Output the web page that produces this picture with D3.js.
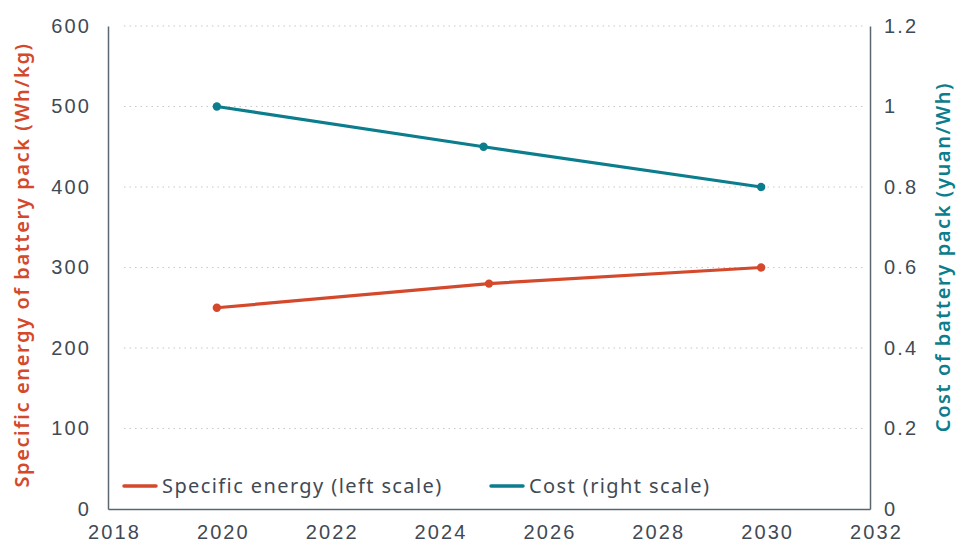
<!DOCTYPE html>
<html><head><meta charset="utf-8">
<script src="https://cdn.jsdelivr.net/npm/d3@7"></script>
<style>
body{margin:0;background:#fff;}
svg{display:block;font-family:"Noto Sans","Open Sans",sans-serif;}
</style></head><body>
<svg id="chart" width="956" height="542"></svg>
<script>
const energyYears = [2020, 2025, 2030];
const energyValues = [250, 280, 300];
const costYears = [2020, 2024.9, 2030];
const costValues = [1.0, 0.9, 0.8];
const xTicks = [2018, 2020, 2022, 2024, 2026, 2028, 2030, 2032];
const leftTicks = [0, 100, 200, 300, 400, 500, 600];
const rightTicks = [0, 0.2, 0.4, 0.6, 0.8, 1.0, 1.2];
const seriesNames = ["Specific energy (left scale)", "Cost (right scale)"];
const leftTitle = "Specific energy of battery pack (Wh/kg)";
const rightTitle = "Cost of battery pack (yuan/Wh)";

const orange = "#d4492b", teal = "#0b7d8d", axisCol = "#5b6770", textCol = "#3f4a54";
const svg = d3.select("#chart");
const L = 108, R = 870, T = 26, B = 509;
const x = d3.scaleLinear().domain([2018, 2032]).range([L, R]);
const yL = d3.scaleLinear().domain([0, 600]).range([B, T]);
const yR = d3.scaleLinear().domain([0, 1.2]).range([B, T]);

// gridlines
svg.append("g").selectAll("line").data(leftTicks.filter(d => d > 0)).join("line")
  .attr("x1", L + 16).attr("x2", R - 6)
  .attr("y1", d => yL(d)).attr("y2", d => yL(d))
  .attr("stroke", "#c8c8c8").attr("stroke-width", 1.2).attr("stroke-dasharray", "1.5,4");

// axes
const axL = svg.append("g").attr("transform", `translate(${L},0)`)
  .call(d3.axisLeft(yL).tickValues(leftTicks).tickSize(0).tickPadding(17));
const axR = svg.append("g").attr("transform", `translate(${R},0)`)
  .call(d3.axisRight(yR).tickValues(rightTicks).tickSize(0).tickPadding(14)
    .tickFormat(d => d === 0 ? "0" : d3.format("~g")(d)));
const axB = svg.append("g").attr("transform", `translate(0,${B})`)
  .call(d3.axisBottom(x).tickValues(xTicks).tickSize(0).tickPadding(14).tickFormat(d3.format("d")));
[axL, axR, axB].forEach(a => {
  a.select(".domain").attr("stroke", axisCol).attr("stroke-width", 1.5);
  a.selectAll("text").attr("fill", textCol).attr("font-size", 20).attr("letter-spacing", 2.1);
});
axL.selectAll(".tick text").attr("dy", "0.3em");
axR.selectAll(".tick text").attr("dy", "0.3em");
axB.selectAll(".tick text").attr("dy", "0.8em").attr("dx", 6);

// lines
const lineE = d3.line().x(d => x(d[0])).y(d => yL(d[1]));
const lineC = d3.line().x(d => x(d[0])).y(d => yR(d[1]));
const eData = energyYears.map((y, i) => [y, energyValues[i]]);
const cData = costYears.map((y, i) => [y, costValues[i]]);
svg.append("path").attr("d", lineE(eData)).attr("fill", "none").attr("stroke", orange).attr("stroke-width", 3.2);
svg.append("path").attr("d", lineC(cData)).attr("fill", "none").attr("stroke", teal).attr("stroke-width", 3.2);
svg.append("g").selectAll("circle").data(eData).join("circle")
  .attr("cx", d => x(d[0])).attr("cy", d => yL(d[1])).attr("r", 4.2).attr("fill", orange);
svg.append("g").selectAll("circle").data(cData).join("circle")
  .attr("cx", d => x(d[0])).attr("cy", d => yR(d[1])).attr("r", 4.2).attr("fill", teal);

// axis titles
svg.append("text").attr("transform", `translate(29,265) rotate(-90)`)
  .attr("text-anchor", "middle").attr("fill", orange).attr("font-size", 20).attr("font-weight", 600)
  .attr("letter-spacing", 1.6).text(leftTitle);
svg.append("text").attr("transform", `translate(950,257) rotate(-90)`)
  .attr("text-anchor", "middle").attr("fill", teal).attr("font-size", 20).attr("font-weight", 600)
  .attr("letter-spacing", 1.6).text(rightTitle);

// legend
const leg = [{n: seriesNames[0], c: orange, x: 124}, {n: seriesNames[1], c: teal, x: 491}];
const lg = svg.append("g").selectAll("g").data(leg).join("g")
  .attr("transform", d => `translate(${d.x},486)`);
lg.append("line").attr("x1", 0).attr("x2", 32).attr("stroke", d => d.c).attr("stroke-width", 3.5).attr("stroke-linecap", "round");
lg.append("text").attr("x", 38).attr("dy", "0.35em").attr("fill", textCol).attr("font-size", 20)
  .attr("letter-spacing", 1.4).text(d => d.n);
</script>
</body></html>
